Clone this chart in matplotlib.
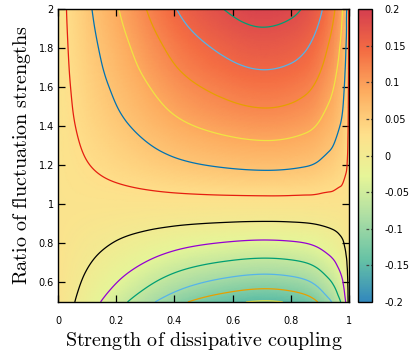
import numpy as np
import matplotlib
matplotlib.use("Agg")
import matplotlib.pyplot as plt
import matplotlib.tri as mtri
from matplotlib.colors import LinearSegmentedColormap

plt.rcParams['axes.unicode_minus'] = False
plt.rcParams['mathtext.fontset'] = 'cm'

# shape of the surface across x (1 at the ridge x=0.7)
x_pts = [0, 0.05, 0.1, 0.2, 0.3, 0.4, 0.5, 0.6, 0.7, 0.8, 0.85, 0.9, 0.93,
         0.95, 0.97, 0.98, 0.99, 0.995, 1.0]
x_shape = [0, 0.10, 0.20, 0.39, 0.575, 0.745, 0.87, 0.955, 1.0, 0.965, 0.91,
           0.785, 0.675, 0.59, 0.47, 0.39, 0.27, 0.18, 0]

# value along x=0.7 for each ratio
r_pts = [0.5, 0.55, 0.6, 0.65, 0.7, 0.75, 0.8, 0.85, 0.9, 0.95, 1.0, 1.1,
         1.2, 1.3, 1.4, 1.5, 1.6, 1.7, 1.8, 1.9, 2.0]
mid_vals = [-0.153, -0.128, -0.1066, -0.087, -0.0685, -0.0514, -0.0354,
            -0.0195, -0.0035, 0.0088, 0.0199, 0.0431, 0.0655, 0.085, 0.1036,
            0.121, 0.136, 0.1516, 0.165, 0.179, 0.192]
edge_val = 0.02

levels = [-0.15, -0.12, -0.09, -0.06, -0.03, 0, 0.03, 0.06, 0.09, 0.12, 0.15, 0.18]
level_colors = ['#f0e442', '#e69f00', '#56b4e9', '#009e73', '#9400d3', 'black',
                '#e51e10', '#0072b2', '#f0e442', '#e69f00', '#56b4e9', '#009e73']

palette = ['#3288BD', '#66C2A5', '#ABDDA4', '#E6F598', '#FEE08B', '#FDAE61',
           '#F46D43', '#D53E4F']
cmap = LinearSegmentedColormap.from_list('spectral8', palette)

xticks = [0, 0.2, 0.4, 0.6, 0.8, 1]
xticklabels = ['0', '0.2', '0.4', '0.6', '0.8', '1']
yticks = [0.6, 0.8, 1, 1.2, 1.4, 1.6, 1.8, 2]
yticklabels = ['0.6', '0.8', '1', '1.2', '1.4', '1.6', '1.8', '2']
cticks = [-0.2, -0.15, -0.1, -0.05, 0, 0.05, 0.1, 0.15, 0.2]
cticklabels = ['-0.2', '-0.15', '-0.1', '-0.05', '0', '0.05', '0.1', '0.15', '0.2']


def grid_triangles(nx, ny):
    tris = []
    for j in range(ny - 1):
        for i in range(nx - 1):
            a = j * nx + i
            b = a + 1
            c = a + nx + 1
            d = a + nx
            tris.append([a, b, c])
            tris.append([a, c, d])
    return np.array(tris)


def main():
    X, Y = np.meshgrid(x_pts, r_pts)
    Z = edge_val + np.outer(np.array(mid_vals) - edge_val, x_shape)

    tri = mtri.Triangulation(X.ravel(), Y.ravel(),
                             grid_triangles(len(x_pts), len(r_pts)))
    refiner = mtri.UniformTriRefiner(tri)
    interp = mtri.CubicTriInterpolator(tri, Z.ravel(), kind='min_E')
    tri_f, z_f = refiner.refine_field(Z.ravel(), triinterpolator=interp, subdiv=4)

    fig = plt.figure(figsize=(4.09, 3.54), dpi=100)
    ax = fig.add_axes([58 / 409, 52 / 354, 291 / 409, 293 / 354])
    ax.tripcolor(tri_f, z_f, shading='gouraud', cmap=cmap, vmin=-0.2, vmax=0.2,
                 rasterized=True)
    ax.tricontour(tri_f, z_f, levels=levels, colors=level_colors, linewidths=0.9)

    ax.set_xlim(0, 1)
    ax.set_ylim(0.5, 2)
    ax.set_xticks(xticks)
    ax.set_xticklabels(xticklabels)
    ax.set_yticks(yticks)
    ax.set_yticklabels(yticklabels)
    ax.tick_params(direction='in', length=5, width=0.9, top=True, right=True,
                   labelsize=7)
    ax.tick_params(axis='x', pad=10)
    ax.tick_params(axis='y', pad=3)
    for s in ax.spines.values():
        s.set_linewidth(1.0)

    ax.set_xlabel(r'$\mathrm{Strength\ of\ dissipative\ coupling}$', fontsize=14.5,
                  labelpad=3)
    ax.set_ylabel(r'$\mathrm{Ratio\ of\ fluctuation\ strengths}$', fontsize=14.5,
                  labelpad=4)

    cax = fig.add_axes([358 / 409, 52 / 354, 14 / 409, 293 / 354])
    sm = plt.cm.ScalarMappable(cmap=cmap, norm=plt.Normalize(-0.2, 0.2))
    cb = fig.colorbar(sm, cax=cax)
    cb.set_ticks(cticks)
    cb.set_ticklabels(cticklabels)
    cb.ax.tick_params(length=0, labelsize=7, pad=9)
    # gnuplot style dashed ticks on the colour box
    cb.ax.hlines(cticks[1:-1], 0.55, 1.0, colors='#444444', linewidth=0.9,
                 linestyles=(0, (2.2, 1.6)))
    cb.outline.set_linewidth(1.0)

    fig.savefig('out.png', dpi=100)


if __name__ == "__main__":
    main()
